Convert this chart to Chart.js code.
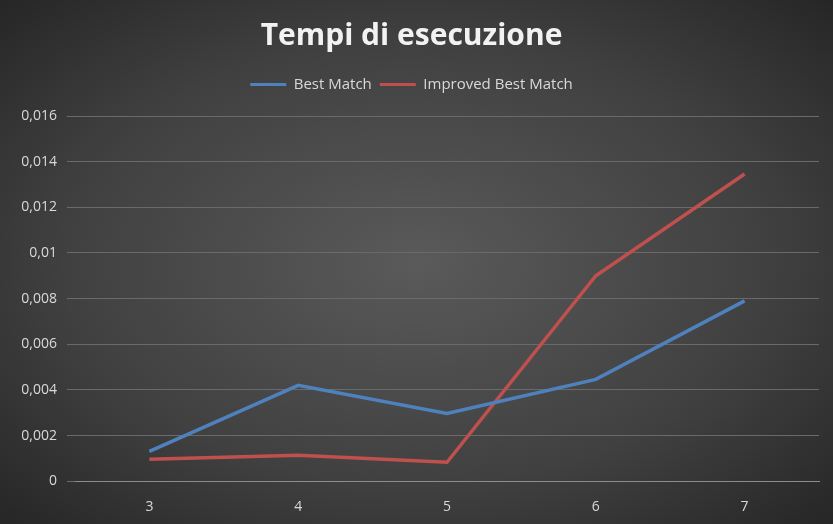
<!DOCTYPE html>
<html><head><meta charset="utf-8">
<script src="https://cdn.jsdelivr.net/npm/chart.js@4"></script>
<style>
html,body{margin:0;padding:0;width:833px;height:524px;overflow:hidden;
background:radial-gradient(ellipse at center,#5a5a5a 0%,#404040 60%,#262626 100%);}
#c{display:block}
</style></head><body>
<canvas id="c" width="833" height="524"></canvas>
<script>
const categories=['3','4','5','6','7'];
const bestMatch=[0.00131,0.0042,0.00297,0.00446,0.0079];
const improvedBestMatch=[0.00096,0.00114,0.00083,0.009,0.01346];
const yTicks=[0,0.002,0.004,0.006,0.008,0.01,0.012,0.014,0.016];
const fmt=v=>String(v).replace('.',',');
new Chart(document.getElementById('c'),{
type:'line',
data:{labels:categories,datasets:[
{label:'Best Match',data:bestMatch,borderColor:'#4f81bd',borderWidth:3.5,pointRadius:0,tension:0},
{label:'Improved Best Match',data:improvedBestMatch,borderColor:'#c0504d',borderWidth:3.5,pointRadius:0,tension:0}
]},
options:{responsive:false,animation:false,
layout:{padding:{left:4,right:14,top:12,bottom:0}},
plugins:{
title:{display:true,text:'Tempi di esecuzione',color:'#f2f2f2',font:{family:'Open Sans',size:30,weight:'bold'},padding:{top:6,bottom:15}},
legend:{labels:{color:'#d9d9d9',font:{family:'Open Sans',size:15},boxWidth:36,boxHeight:3,padding:8,
generateLabels:ch=>ch.data.datasets.map((d,i)=>({text:d.label,fillStyle:d.borderColor,strokeStyle:d.borderColor,lineWidth:0,fontColor:'#d9d9d9',datasetIndex:i}))}}
},
scales:{
x:{grid:{display:false},border:{display:true,color:'#8c8c8c'},offset:true,
ticks:{color:'#d9d9d9',font:{family:'Open Sans',size:14},padding:9}},
y:{min:0,max:0.016,afterBuildTicks:a=>{a.ticks=yTicks.map(v=>({value:v}));},
afterFit:a=>{a.width=71;},
grid:{color:'#6a6a6a',lineWidth:1},border:{display:false},
ticks:{color:'#d9d9d9',font:{family:'Open Sans',size:14},padding:10,callback:v=>fmt(v)}}
}},
plugins:[{id:'legendGap',beforeInit(ch){const L=ch.legend;const f=L.fit;L.fit=function(){f.call(this);this.height+=14;};}}]
});
</script></body></html>
